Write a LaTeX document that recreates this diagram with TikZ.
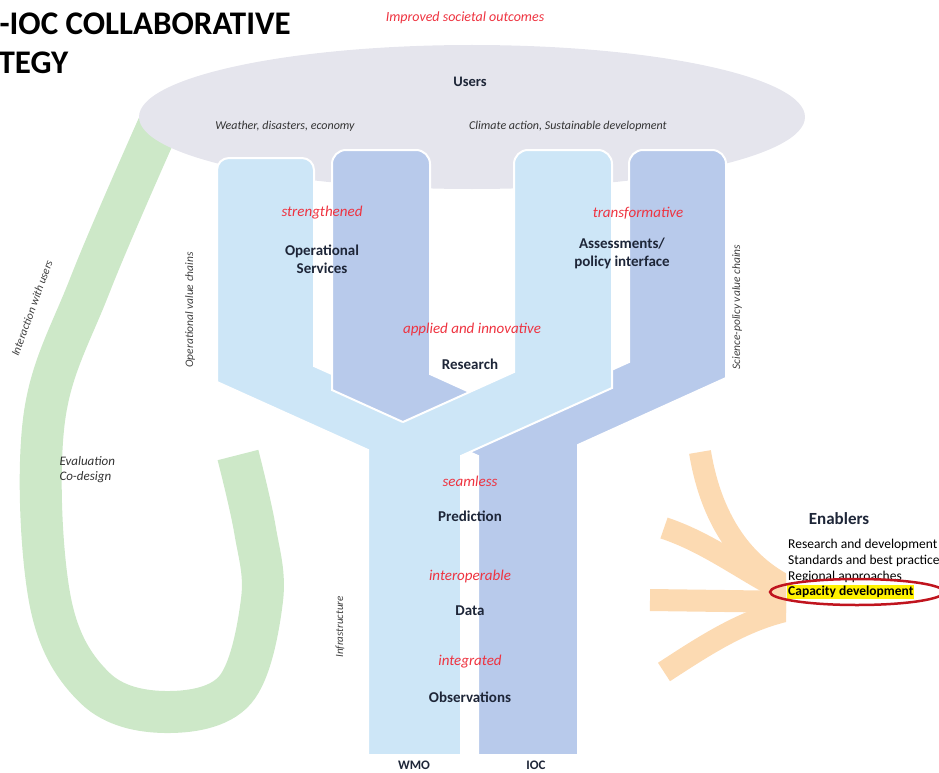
\documentclass[tikz,border=0pt]{standalone}
\usepackage{fontspec}
\setmainfont{Carlito}
\usetikzlibrary{positioning}

\definecolor{usergray}{HTML}{E5E5ED}
\definecolor{lightblue}{HTML}{CDE6F7}
\definecolor{darkblue}{HTML}{B8CAEB}
\definecolor{loopgreen}{HTML}{CDE8C8}
\definecolor{rayorange}{HTML}{FCDAB2}
\definecolor{keyred}{HTML}{EE3340}
\definecolor{labelink}{HTML}{1E2638}
\definecolor{ringred}{HTML}{C0141E}

\begin{document}
\begin{tikzpicture}[x=1pt, y=-1pt,
    adj/.style={text=keyred, font=\fontsize{15}{17}\selectfont\itshape},
    stage/.style={text=labelink, font=\fontsize{15}{18}\selectfont\bfseries, align=center},
    note/.style={text=black!80, font=\fontsize{12}{15}\selectfont\itshape, align=left},
    side/.style={text=black!75, font=\fontsize{11.5}{13}\selectfont\itshape},
    foot/.style={text=labelink, font=\fontsize{13}{15}\selectfont\bfseries},
    ray/.style={rayorange, line width=22pt},
    edge/.style={draw=white, line width=2pt}]
  \useasboundingbox (0,0) rectangle (939,773);

  % Title, cut by the left edge
  \node (title1) [anchor=west, font=\fontsize{33}{35}\selectfont\bfseries] at (-4,24) {-IOC COLLABORATIVE};
  \node (title2) [anchor=west, font=\fontsize{33}{35}\selectfont\bfseries] at (-5,63) {TEGY};

  % Interaction loop (green)
  \draw[loopgreen, line width=42pt] plot[smooth, tension=0.6] coordinates
    {(160,122) (90,285) (44,420) (50,600) (95,688) (165,712) (235,690) (262,600) (255,530) (238,455)};

  % Users
  \fill[usergray] (472,117) ellipse [x radius=333pt, y radius=72pt];
  \node (outcomes) [adj, font=\fontsize{14}{16}\selectfont\itshape] at (465,18) {Improved societal outcomes};
  \node (users) [text=labelink, font=\fontsize{14.5}{16}\selectfont\bfseries] at (470,82) {Users};
  \node (weather) [note] at (285,126) {Weather, disasters, economy};
  \node (climate) [note] at (568,126) {Climate action, Sustainable development};

  % Enabler rays
  \begin{scope}
    \clip (600,420) rectangle (786,720);
    \draw[ray] (700,452) .. controls (712,525) and (748,572) .. (800,592);
    \draw[ray] (664,528) .. controls (715,545) and (755,580) .. (800,598);
    \draw[ray] (650,600) -- (800,602);
    \draw[ray] (664,672) .. controls (710,642) and (750,616) .. (800,608);
  \end{scope}

  % WMO branch: left bar and column
  \draw[fill=lightblue, edge] (217,300) [rounded corners=12pt] -- (217,158) -- (314,158) -- (314,300)
    [sharp corners] -- (314,366) -- (461,432) -- (461,755) -- (368,755) -- (368,450) -- (217,382) -- cycle;

  % IOC branch: both dark bars and column
  \draw[fill=darkblue, edge] (332,300) [rounded corners=14pt] -- (332,150) -- (430,150) -- (430,300)
    [sharp corners] -- (430,374) -- (516,413) -- (629,362) -- (629,300)
    [rounded corners=14pt] -- (629,150) -- (726,150) -- (726,300)
    [sharp corners] -- (726,378) -- (578,445) -- (578,755) -- (478,755) -- (478,456) -- (332,390) -- cycle;

  % WMO branch: right bar, crossing over
  \fill[lightblue] (514,300) [rounded corners=14pt] -- (514,150) -- (612,150) -- (612,300)
    [sharp corners] -- (612,388) -- (461,456) -- (461,470) -- (400,470) -- (400,424) -- (514,372) -- cycle;
  \draw[edge] (514,300) [rounded corners=14pt] -- (514,150) -- (612,150) -- (612,300)
    [sharp corners] -- (612,388) -- (461,456) -- (461,470);
  \draw[edge] (514,300) -- (514,372) -- (403,422);

  % Labels on the bars
  \node (strength) [adj] at (322,213) {strengthened};
  \node (opserv) [stage] at (322,259) {Operational\\Services};
  \node (transf) [adj] at (638,213) {transformative};
  \node (assess) [stage] at (622,253) {Assessments/\\policy interface};
  \node (applied) [adj] at (472,329) {applied and innovative};
  \node (research) [stage] at (470,364) {Research};

  \foreach \adjword/\stageword/\ya in {seamless/Prediction/481, interoperable/Data/576, integrated/Observations/662} {
    \pgfmathsetmacro{\ys}{\ya + 35}
    \node (adj-\stageword) [adj] at (470,\ya) {\adjword};
    \node (stage-\stageword) [stage] at (470,\ys) {\stageword};
  }

  \node (wmo) [foot] at (414,765) {WMO};
  \node (ioc) [foot] at (536,765) {IOC};

  % Side notes
  \node (interact) [side, rotate=70] at (32,308) {Interaction with users};
  \node (evaluation) [note, font=\fontsize{13}{15}\selectfont\itshape, anchor=west] at (56,470) {Evaluation\\Co-design};
  \node (opchain) [side, rotate=90] at (190,310) {Operational value chains};
  \node (scichain) [side, rotate=90] at (737,307) {Science-policy value chains};
  \node (infra) [side, font=\fontsize{11}{13}\selectfont\itshape, rotate=90] at (340,627) {Infrastructure};

  % Enablers
  \node (enablers) [text=labelink, font=\fontsize{17}{19}\selectfont\bfseries] at (839,519) {Enablers};
  \foreach \item [count=\i] in {Research and development, Standards and best practice, Regional approaches} {
    \pgfmathsetmacro{\yi}{529 + 16*\i}
    \node (item\i) [anchor=west, inner sep=1pt, font=\fontsize{13.5}{15}\selectfont] at (787,\yi) {\item};
  }
  \node (capacity) [anchor=west, inner sep=1pt, fill=yellow, font=\fontsize{13.5}{15}\selectfont\bfseries] at (787,592) {Capacity development};
  \draw[ringred, line width=2.5pt] (857,592) ellipse [x radius=87pt, y radius=13pt];
\end{tikzpicture}
\end{document}
